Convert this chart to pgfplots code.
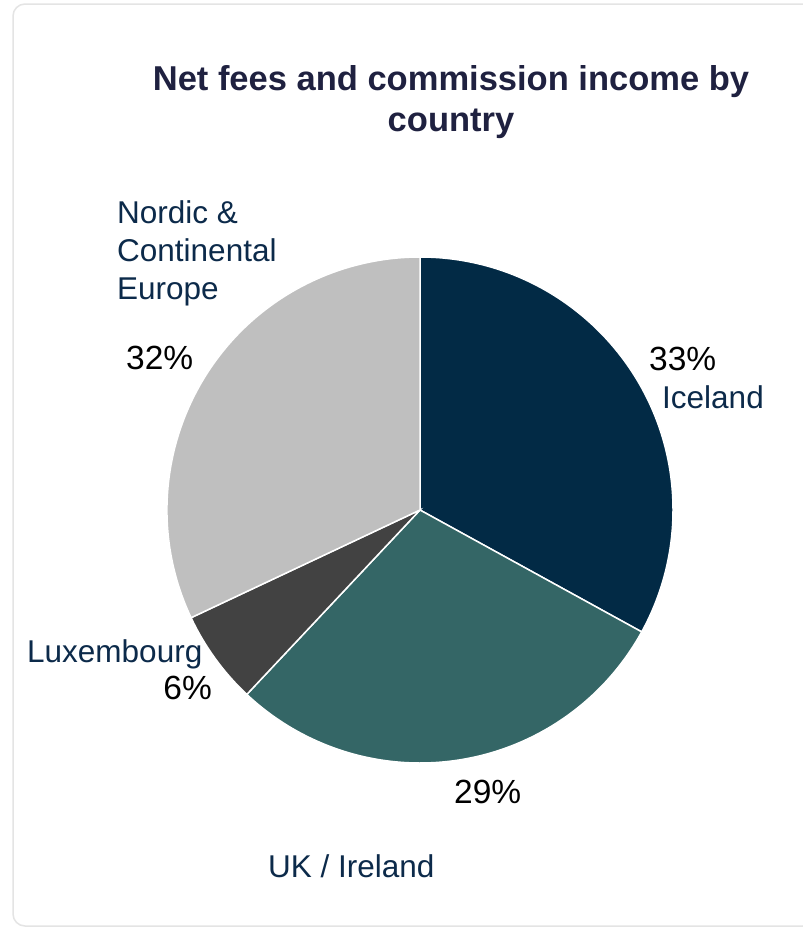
\documentclass[border=0pt]{standalone}
\usepackage{fontspec}
\setmainfont{Liberation Sans}
\usepackage{pgfplots}
\pgfplotsset{compat=1.18}

\definecolor{iceland}{HTML}{022A45}
\definecolor{ukire}{HTML}{346666}
\definecolor{luxem}{HTML}{424242}
\definecolor{nordic}{HTML}{BFBFBF}
\definecolor{titlecol}{HTML}{1F2140}
\definecolor{labcol}{HTML}{0C2A4A}
\definecolor{cardgray}{HTML}{E4E4E4}

% shares in percent
\def\vIce{33}
\def\vUK{29}
\def\vLux{6}
\def\vNor{32}
\def\pieR{253bp}

\begin{document}
\begin{tikzpicture}
\begin{axis}[
    hide axis,
    scale only axis,
    x=1bp, y=1bp,
    y dir=reverse,
    xmin=0, xmax=803,
    ymin=0, ymax=931,
    clip=false,
]
\coordinate (bl) at (axis cs:0,931);
\coordinate (tr) at (axis cs:803,0);
\fill[white] (axis cs:0,0) rectangle (axis cs:803,931);
\draw[cardgray, line width=1.5bp, rounded corners=12bp] (axis cs:13,4) rectangle (axis cs:815,926);

% wedges, clockwise from the top
\filldraw[fill=iceland, draw=white, line width=1.5bp] (axis cs:420,510) -- ++(90:\pieR)
    arc[start angle=90, end angle={90-3.6*\vIce}, radius=\pieR] -- cycle;
\filldraw[fill=ukire, draw=white, line width=1.5bp] (axis cs:420,510) -- ++({90-3.6*\vIce}:\pieR)
    arc[start angle={90-3.6*\vIce}, end angle={90-3.6*(\vIce+\vUK)}, radius=\pieR] -- cycle;
\filldraw[fill=luxem, draw=white, line width=1.5bp] (axis cs:420,510) -- ++({90-3.6*(\vIce+\vUK)}:\pieR)
    arc[start angle={90-3.6*(\vIce+\vUK)}, end angle={90-3.6*(\vIce+\vUK+\vLux)}, radius=\pieR] -- cycle;
\filldraw[fill=nordic, draw=white, line width=1.5bp] (axis cs:420,510) -- ++({90-3.6*(\vIce+\vUK+\vLux)}:\pieR)
    arc[start angle={90-3.6*(\vIce+\vUK+\vLux)}, end angle={90-3.6*(\vIce+\vUK+\vLux+\vNor)}, radius=\pieR] -- cycle;

% title
\node[anchor=base, inner sep=0pt, text=titlecol, font=\fontsize{34.5bp}{41bp}\selectfont\bfseries]
    at (axis cs:451,90) {Net fees and commission income by};
\node[anchor=base, inner sep=0pt, text=titlecol, font=\fontsize{34.5bp}{41bp}\selectfont\bfseries]
    at (axis cs:451,131) {country};

% labels
\tikzset{lab/.style={inner sep=0pt, font=\fontsize{31.5bp}{38bp}\selectfont},
         pct/.style={inner sep=0pt, text=black, font=\fontsize{33.5bp}{40bp}\selectfont}}
\node[lab, anchor=base west, text=labcol] at (axis cs:117,223) {Nordic \&};
\node[lab, anchor=base west, text=labcol] at (axis cs:117,261) {Continental};
\node[lab, anchor=base west, text=labcol] at (axis cs:117,299) {Europe};
\node[pct, anchor=base west] at (axis cs:126,369) {\vNor\%};

\node[pct, anchor=base west] at (axis cs:649,370) {\vIce\%};
\node[lab, anchor=base west, text=labcol] at (axis cs:662,408) {Iceland};

\node[lab, anchor=base west, text=labcol] at (axis cs:27,662) {Luxembourg};
\node[pct, anchor=base east] at (axis cs:212,699) {\vLux\%};

\node[pct, anchor=base west] at (axis cs:454,803) {\vUK\%};
\node[lab, anchor=base west, text=labcol] at (axis cs:268,877) {UK / Ireland};
\end{axis}
\pgfresetboundingbox
\path[use as bounding box] (bl) rectangle (tr);
\end{tikzpicture}
\end{document}
